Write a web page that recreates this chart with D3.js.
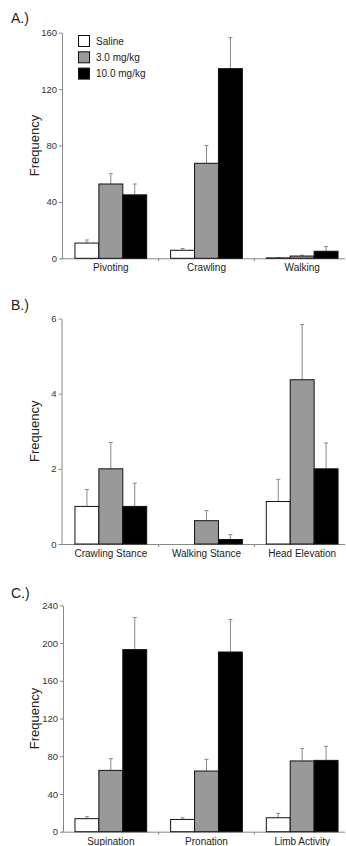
<!DOCTYPE html>
<html>
<head>
<meta charset="utf-8">
<script src="https://cdn.jsdelivr.net/npm/d3@7"></script>
<style>
  body { margin: 0; background: #fff; }
  svg { display: block; font-family: "Liberation Sans", Arial, sans-serif; }
</style>
</head>
<body>
<svg id="chart" width="346" height="846"></svg>
<script>
//----------------------------//
//            DATA            //
//----------------------------//
const groups = ["Saline", "3.0 mg/kg", "10.0 mg/kg"];
const fills = ["#fff", "#999", "#000"];

const catsA = ["Pivoting", "Crawling", "Walking"];
const salineA = [10.8, 5.7, 0.3];
const lowA = [52.7, 67.4, 1.6];
const highA = [45, 134.5, 5];
const salineErrA = [2.2, 1.3, 0.2];
const lowErrA = [7.3, 12.6, 0.6];
const highErrA = [7.7, 22, 3.3];
const ticksA = [0, 40, 80, 120, 160];

const catsB = ["Crawling Stance", "Walking Stance", "Head Elevation"];
const salineB = [1.0, 0, 1.13];
const lowB = [2.0, 0.62, 4.37];
const highB = [1.0, 0.12, 2.0];
const salineErrB = [0.45, 0, 0.59];
const lowErrB = [0.7, 0.27, 1.47];
const highErrB = [0.62, 0.13, 0.69];
const ticksB = [0, 2, 4, 6];

const catsC = ["Supination", "Pronation", "Limb Activity"];
const salineC = [13.8, 13, 14.8];
const lowC = [65, 64.3, 75];
const highC = [193, 190.5, 75.6];
const salineErrC = [2.1, 1.8, 4.6];
const lowErrC = [12.4, 12.4, 13];
const highErrC = [34, 34.3, 14.9];
const ticksC = [0, 40, 80, 120, 160, 200, 240];

const svg = d3.select("#chart");

// --- Panel drawing ---
function drawPanel(p) {
    const g = svg.append("g");

    const y = d3.scaleLinear()
        .domain([0, d3.max(p.ticks)])
        .range([p.y0, p.y1]);

    const x = d3.scaleBand()
        .domain(p.cats)
        .range([63, 350])
        .paddingInner(0.25)
        .paddingOuter(0.125);

    const xs = d3.scaleBand()
        .domain(groups)
        .range([0, x.bandwidth()]);

    // panel letter
    g.append("text")
        .attr("x", 11)
        .attr("y", p.ly)
        .attr("font-size", 14)
        .attr("fill", "#222")
        .text(p.label);

    // y axis
    const ya = g.append("g")
        .attr("transform", `translate(${p.ax},0)`)
        .call(d3.axisLeft(y).tickValues(p.ticks).tickFormat(d3.format("d"))
            .tickSize(3).tickSizeOuter(0).tickPadding(2));
    ya.select(".domain").attr("stroke", "#888");
    ya.selectAll(".tick line").attr("stroke", "#888");
    ya.selectAll(".tick text").attr("font-size", 9.5).attr("fill", "#333")
        .attr("font-family", "Liberation Sans, Arial, sans-serif");

    g.append("text")
        .attr("transform", `translate(39,${(p.y0 + p.y1) / 2}) rotate(-90)`)
        .attr("text-anchor", "middle")
        .attr("font-size", 13)
        .attr("fill", "#222")
        .text("Frequency");

    // x axis line and separators
    g.append("line")
        .attr("x1", p.ax - 1).attr("x2", 345)
        .attr("y1", p.y0 + 0.5).attr("y2", p.y0 + 0.5)
        .attr("stroke", "#888");

    const seps = p.cats.slice(1).map((c, i) => (x(p.cats[i]) + x.bandwidth() + x(c)) / 2);
    g.selectAll(".sep")
        .data(seps)
        .enter()
        .append("line")
        .attr("x1", d => d).attr("x2", d => d)
        .attr("y1", p.y0).attr("y2", p.y0 + 3)
        .attr("stroke", "#888");

    g.selectAll(".cat")
        .data(p.cats)
        .enter()
        .append("text")
        .attr("x", d => x(d) + x.bandwidth() / 2)
        .attr("y", p.y0 + 13)
        .attr("text-anchor", "middle")
        .attr("font-size", 10)
        .attr("fill", "#222")
        .text(d => d);

    // bars
    const rows = [];
    p.series.forEach((vals, si) => {
        vals.forEach((v, ci) => {
            rows.push({ cat: p.cats[ci], grp: groups[si], si, v, e: p.errors[si][ci] });
        });
    });

    // error bars (drawn under the bar outlines)
    const eb = g.selectAll(".err")
        .data(rows.filter(d => d.e > 0))
        .enter()
        .append("g");
    eb.append("line")
        .attr("x1", d => x(d.cat) + xs(d.grp) + xs.bandwidth() / 2)
        .attr("x2", d => x(d.cat) + xs(d.grp) + xs.bandwidth() / 2)
        .attr("y1", d => y(d.v))
        .attr("y2", d => y(d.v + d.e))
        .attr("stroke", "#888");
    eb.append("line")
        .attr("x1", d => x(d.cat) + xs(d.grp) + xs.bandwidth() / 2 - 2)
        .attr("x2", d => x(d.cat) + xs(d.grp) + xs.bandwidth() / 2 + 2)
        .attr("y1", d => y(d.v + d.e))
        .attr("y2", d => y(d.v + d.e))
        .attr("stroke", "#888");

    g.selectAll(".bar")
        .data(rows)
        .enter()
        .append("rect")
        .attr("x", d => x(d.cat) + xs(d.grp))
        .attr("y", d => y(d.v))
        .attr("width", xs.bandwidth())
        .attr("height", d => y(0) - y(d.v))
        .attr("fill", d => fills[d.si])
        .attr("stroke", "#111")
        .attr("stroke-width", 1);

    // legend
    if (p.legend) {
        const lg = g.selectAll(".leg")
            .data(groups)
            .enter()
            .append("g")
            .attr("transform", (d, i) => `translate(78.5,${35.5 + i * 16.3})`);
        lg.append("rect")
            .attr("width", 11).attr("height", 11)
            .attr("fill", (d, i) => fills[i])
            .attr("stroke", "#111");
        lg.append("text")
            .attr("x", 17.5).attr("y", 9)
            .attr("font-size", 10)
            .attr("fill", "#222")
            .text(d => d);
    }
}

// --- Main ---
drawPanel({
    label: "A.)", ly: 22.5, cats: catsA, ticks: ticksA, ax: 62, y0: 258.3, y1: 32.7, legend: true,
    series: [salineA, lowA, highA], errors: [salineErrA, lowErrA, highErrA]
});
drawPanel({
    label: "B.)", ly: 310, cats: catsB, ticks: ticksB, ax: 61.5, y0: 544, y1: 318.5, legend: false,
    series: [salineB, lowB, highB], errors: [salineErrB, lowErrB, highErrB]
});
drawPanel({
    label: "C.)", ly: 598, cats: catsC, ticks: ticksC, ax: 63, y0: 831.7, y1: 605.3, legend: false,
    series: [salineC, lowC, highC], errors: [salineErrC, lowErrC, highErrC]
});
</script>
</body>
</html>
